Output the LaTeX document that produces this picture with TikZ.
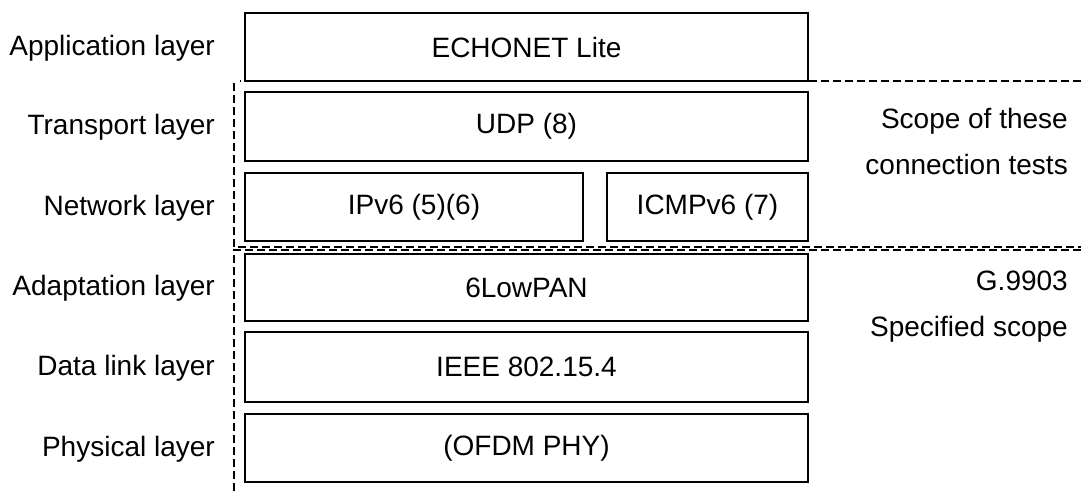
\documentclass[tikz,border=0pt]{standalone}
\usepackage{fontspec}
\setmainfont{Liberation Sans}
\usetikzlibrary{positioning}

\begin{document}
\begin{tikzpicture}[x=1pt, y=-1pt,
  layerbox/.style={draw, line width=1.5pt, inner sep=0pt, font=\fontsize{28}{46}\selectfont},
  layername/.style={anchor=east, inner sep=0pt, font=\fontsize{28}{46}\selectfont},
  scopenote/.style={anchor=east, align=right, inner sep=0pt, font=\fontsize{28}{46}\selectfont},
  scopeline/.style={line width=1.5pt, dash pattern=on 8pt off 4pt}]

\useasboundingbox (0,0) rectangle (1081,495);

\node[layerbox, minimum width=563, minimum height=68] (echonet) at (526.5,47) {ECHONET Lite};
\node[layerbox, minimum width=563, minimum height=69] (udp) at (526.5,126.5) {UDP (8)};
\node[layerbox, minimum width=338, minimum height=68] (ipv6) at (414,207) {IPv6 (5)(6)};
\node[layerbox, minimum width=201, minimum height=68] (icmpv6) at (707.5,207) {ICMPv6 (7)};
\node[layerbox, minimum width=563, minimum height=67] (lowpan) at (526.5,287.5) {6LowPAN};
\node[layerbox, minimum width=563, minimum height=70] (ieee) at (526.5,367) {IEEE 802.15.4};
\node[layerbox, minimum width=563, minimum height=68] (ofdm) at (526.5,448) {(OFDM PHY)};

\node[layername] (appname) at (215,48) {Application layer};
\node[layername] (transname) at (215,127.5) {Transport layer};
\node[layername] (netname) at (215,208) {Network layer};
\node[layername] (adaptname) at (215,288.5) {Adaptation layer};
\node[layername] (linkname) at (215,368) {Data link layer};
\node[layername] (physname) at (215,449) {Physical layer};

\draw[scopeline] (1081,81) -- (240,81);
\draw[scopeline] (234,83) -- (234,247) -- (1081,247);
\draw[scopeline] (1081,250) -- (234,250) -- (234,495);

\node[scopenote] (testscope) at (1068,141) {Scope of these\\connection tests};
\node[scopenote] (gscope) at (1068,307) {G.9903\\Specified scope};

\end{tikzpicture}
\end{document}
